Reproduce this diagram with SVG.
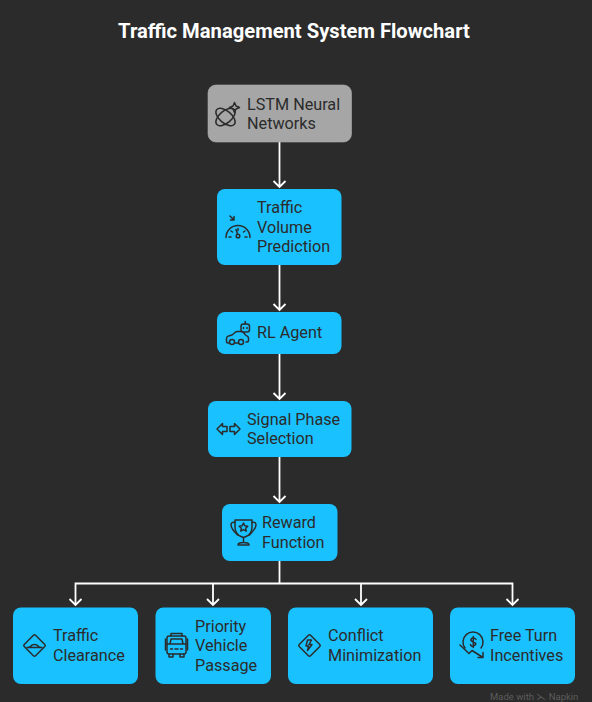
<svg xmlns="http://www.w3.org/2000/svg" width="592" height="702" viewBox="0 0 592 702">
<style>
.bg{fill:#2b2b2b}
.title{font:700 20.2px Roboto,"Liberation Sans",sans-serif;fill:#fff}
.box{fill:#1ac1ff}
.gray{fill:#a6a6a6;stroke:#adadad;stroke-width:.6}
.t{font:400 16.2px Roboto,"Liberation Sans",sans-serif;fill:#2b2b2b}
.i{fill:none;stroke:#2b2b2b;stroke-width:1.5;stroke-linecap:round;stroke-linejoin:round}
.c{fill:none;stroke:#fff;stroke-width:1.8}
.foot{font:400 9.5px Roboto,"Liberation Sans",sans-serif;fill:#5c5c5c}
</style>
<rect class="bg" width="592" height="702"/>
<text class="title" x="294" y="38" text-anchor="middle">Traffic Management System Flowchart</text>
<g id="connectors" class="c">
<path d="M279.500 142V187M273.500 181L279.500 187L285.500 181"/>
<path d="M279.500 265V310M273.500 304L279.500 310L285.500 304"/>
<path d="M279.500 354V399M273.500 393L279.500 399L285.500 393"/>
<path d="M279.500 457V502M273.500 496L279.500 502L285.500 496"/>
<path d="M279.500 561V583.500"/>
<path d="M75.500 605V583.500H512.500V605"/>
<path d="M213 583.500V605M361 583.500V605"/>
<path d="M69.500 599L75.500 605L81.500 599M207 599L213 605L219 599M355 599L361 605L367 599M506.500 599L512.500 605L518.500 599"/>
</g>
<g id="n-lstm">
<rect class="gray" x="208" y="85" width="143.500" height="57" rx="8"/>
<g class="i"><ellipse cx="225.500" cy="117" rx="11.500" ry="6" transform="rotate(40 225.500 117)"/><ellipse cx="225.500" cy="117" rx="11.500" ry="6" transform="rotate(-40 225.500 117)"/><path d="M234.500 102.500l1.500 3.500 3.500 1.500-3.500 1.500-1.500 3.500-1.500-3.500-3.500-1.500 3.500-1.500z"/></g>
<text class="t" x="247" y="109.500">LSTM Neural</text><text class="t" x="247" y="129">Networks</text>
</g>
<g id="n-volume">
<rect class="box" x="217" y="189" width="124.500" height="76" rx="8"/>
<g class="i"><path d="M226 237.500a12 12 0 0 1 24 0"/><path d="M229 237h2M245 237h2M231 231l1.500 1M245 231l-1.500 1M238 228.500v2M237.500 234l-1.500-4.500"/><circle cx="238" cy="236" r="1.800"/><path d="M230 216l3.500 3.500M234 216.500v3.500h-3.500"/></g>
<text class="t" x="257" y="213">Traffic</text><text class="t" x="257" y="232.500">Volume</text><text class="t" x="257" y="252">Prediction</text>
</g>
<g id="n-rl">
<rect class="box" x="217" y="312" width="124.500" height="42" rx="8"/>
<g class="i"><path d="M229 343h-1q-1.500 0-1.500-1.500v-3q0-2 2-2.500l3.500-1 3-2.500q1-1 2.500-1h3.500q1.500 0 2.500 1l2 2.500 1.500 1q1.500.5 1.500 2.500v2q0 1.500-1.500 1.500h-1M234.500 343h4"/><circle cx="232" cy="342" r="2.500"/><circle cx="241" cy="342" r="2.500"/><rect x="241" y="324" width="8.500" height="8" rx="2.500"/><path d="M245.200 324v-2.500M243.500 327.500v1M247 327.500v1"/></g>
<text class="t" x="257" y="338">RL Agent</text>
</g>
<g id="n-signal">
<rect class="box" x="208" y="401" width="143.500" height="56" rx="8"/>
<g class="i"><path d="M217 429l5.500-5.500v3h4.500v5h-4.500v3zM240 429l-5.500-5.500v3h-4.500v5h4.500v3z"/></g>
<text class="t" x="247" y="425">Signal Phase</text><text class="t" x="247" y="444">Selection</text>
</g>
<g id="n-reward">
<rect class="box" x="222" y="504" width="115.500" height="57" rx="8"/>
<g class="i"><path d="M235 520h17v7q0 7-6 9.500l-2.500 1-2.500-1q-6-2.500-6-9.500z"/><path d="M235 522.500q-4-1-4 2.500t6.500 10M252 522.500q4-1 4 2.500t-6.500 10M243.500 537.500v5M238 545q0-2.500 5.500-2.500t5.500 2.500z"/><path d="M243.500 523l1.300 2.800 3 .4-2.200 2 .6 3-2.700-1.500-2.700 1.500.6-3-2.200-2 3-.4z"/></g>
<text class="t" x="262" y="528">Reward</text><text class="t" x="262" y="547.500">Function</text>
</g>
<g id="n-clearance">
<rect class="box" x="13" y="607.500" width="125" height="76.500" rx="8"/>
<g class="i"><rect x="26.500" y="637.500" width="16" height="16" rx="1.500" transform="rotate(45 34.500 645.500)"/><path d="M27 647.500q3 0 4-1.500t3.500-1.500 3.500 1.500 4 1.500z"/></g>
<text class="t" x="53" y="641">Traffic</text><text class="t" x="53" y="660.500">Clearance</text>
</g>
<g id="n-priority">
<rect class="box" x="155.500" y="607.500" width="115.500" height="76.500" rx="8"/>
<g class="i"><rect x="167" y="636" width="19" height="18" rx="2"/><path d="M165.500 639v11M187.500 639v11M171 636v-2.500h11v2.500M167 644h19M170 644l1-5h11l1 5M169 654v3h4v-3M180 654v3h4v-3M170.500 649h2M180.500 649h2M175 649h3"/></g>
<text class="t" x="195" y="631.500">Priority</text><text class="t" x="195" y="651">Vehicle</text><text class="t" x="195" y="670.500">Passage</text>
</g>
<g id="n-conflict">
<rect class="box" x="288" y="607.500" width="145" height="76.500" rx="8"/>
<g class="i"><rect x="301.500" y="637.500" width="16" height="16" rx="1.500" transform="rotate(45 309.500 645.500)"/><path d="M307.500 640h4l-2.500 4.500h3l-4.500 6 1-4.500h-2.500z"/></g>
<text class="t" x="328" y="641">Conflict</text><text class="t" x="328" y="660.500">Minimization</text>
</g>
<g id="n-free">
<rect class="box" x="450" y="607.500" width="125" height="76.500" rx="8"/>
<g class="i"><path d="M465 648a10 10 0 1 1 16 0"/><path d="M460 645l9 8.500 3-3 11 7M483 652.500v5h-5"/><path d="M476 639.500q-.8-1.500-2.700-1.500t-2.300 1.500 2.300 2.500 2.500 2-2.500 2-2.800-1.500M473.300 636.500v11"/></g>
<text class="t" x="490" y="641">Free Turn</text><text class="t" x="490" y="660.500">Incentives</text>
</g>
<text class="foot" x="490" y="699.500">Made with ⋋ Napkin</text>
</svg>
